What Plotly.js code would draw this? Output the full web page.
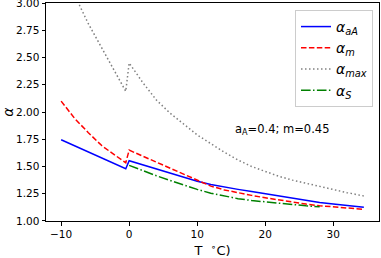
<!DOCTYPE html>
<html>
<head>
<meta charset="utf-8">
<script src="https://cdn.plot.ly/plotly-3.0.1.min.js"></script>
<style>html,body{margin:0;padding:0;background:#fff;}#chart{width:381px;height:258px;}</style>
</head>
<body>
<div id="chart"></div>
<script>
// Temperature samples (°C)
const tNeg = [-10, -8, -6, -4, -2, -0.5];
const tPos = [0, 2, 4, 6, 8, 10, 12, 14, 16, 18, 20, 22, 24, 26, 28, 30, 32, 34.5];
const tS = [0, 2, 4, 6, 8, 10, 12, 14, 16, 18, 20, 22, 24, 26, 28];

// alpha_aA
const aANeg = [1.745, 1.69, 1.63, 1.58, 1.52, 1.48];
const aAPos = [1.553, 1.515, 1.475, 1.44, 1.40, 1.365, 1.335, 1.31, 1.29, 1.27, 1.25, 1.23, 1.205, 1.19, 1.17, 1.155, 1.14, 1.125];
// alpha_m
const mNeg = [2.10, 1.94, 1.81, 1.69, 1.60, 1.535];
const mPos = [1.65, 1.595, 1.54, 1.485, 1.425, 1.37, 1.32, 1.285, 1.258, 1.235, 1.213, 1.193, 1.172, 1.155, 1.14, 1.13, 1.12, 1.107];
// alpha_max
const maxNeg = [3.35, 3.07, 2.81, 2.58, 2.35, 2.19];
const maxPos = [2.45, 2.27, 2.11, 1.99, 1.89, 1.79, 1.71, 1.63, 1.56, 1.50, 1.455, 1.41, 1.375, 1.345, 1.315, 1.29, 1.26, 1.23];
// alpha_S
const sPos = [1.51, 1.46, 1.415, 1.372, 1.33, 1.29, 1.255, 1.228, 1.205, 1.188, 1.174, 1.162, 1.15, 1.139, 1.13];

const tAll = tNeg.concat(tPos);

const traces = [
  {x: tAll, y: aANeg.concat(aAPos), name: '<i>α<sub>aA</sub></i>', mode: 'lines',
   line: {color: '#0000ff', width: 1.5}},
  {x: tAll, y: mNeg.concat(mPos), name: '<i>α<sub>m</sub></i>', mode: 'lines',
   line: {color: '#ff0000', width: 1.5, dash: '5.5px,2.4px'}},
  {x: tAll, y: maxNeg.concat(maxPos), name: '<i>α<sub>max</sub></i>', mode: 'lines',
   line: {color: '#808080', width: 1.5, dash: '1.5px,2.5px'}},
  {x: tS, y: sPos, name: '<i>α<sub>S</sub></i>', mode: 'lines',
   line: {color: '#008000', width: 1.5, dash: '9.6px,2.4px,1.5px,2.4px'}}
];

const axisCommon = {
  showgrid: false, zeroline: false, showline: true, mirror: true,
  linecolor: '#000', linewidth: 1, ticks: 'outside', ticklen: 3.5,
  tickcolor: '#000', tickwidth: 1, ticklabeloverflow: 'allow',
  tickfont: {family: 'DejaVu Sans', size: 10.5, color: '#000'}
};

const layout = {
  width: 381, height: 258,
  margin: {l: 46, r: 2, t: 3, b: 37},
  paper_bgcolor: '#fff', plot_bgcolor: '#fff',
  showlegend: true,
  xaxis: Object.assign({}, axisCommon, {
    range: [-12.225, 36.725], tickvals: [-10, 0, 10, 20, 30],
    title: {text: 'T  <sup>∘</sup>C)', font: {family: 'DejaVu Sans', size: 13, color: '#000'}, standoff: 10}
  }),
  yaxis: Object.assign({}, axisCommon, {
    range: [0.9999, 3.0001], tickvals: [1, 1.25, 1.5, 1.75, 2, 2.25, 2.5, 2.75, 3], tickformat: '.2f',
    title: {text: '<i>α</i>', font: {family: 'DejaVu Sans', size: 14, color: '#000'}, standoff: 6}
  }),
  legend: {
    x: 0.982, y: 0.968, xanchor: 'right', yanchor: 'top',
    bgcolor: 'rgba(255,255,255,0.8)', bordercolor: '#cccccc', borderwidth: 1,
    font: {family: 'DejaVu Sans', size: 14, color: '#000'},
    itemwidth: 30, tracegroupgap: 0
  },
  annotations: [{
    x: 15.2, y: 1.835, xref: 'x', yref: 'y', xanchor: 'left', yanchor: 'middle',
    text: 'a<sub>A</sub>=0.4; m=0.45', showarrow: false,
    font: {family: 'DejaVu Sans', size: 11.5, color: '#000'}
  }]
};

Plotly.newPlot('chart', traces, layout, {staticPlot: true, displayModeBar: false});
</script>
</body>
</html>
